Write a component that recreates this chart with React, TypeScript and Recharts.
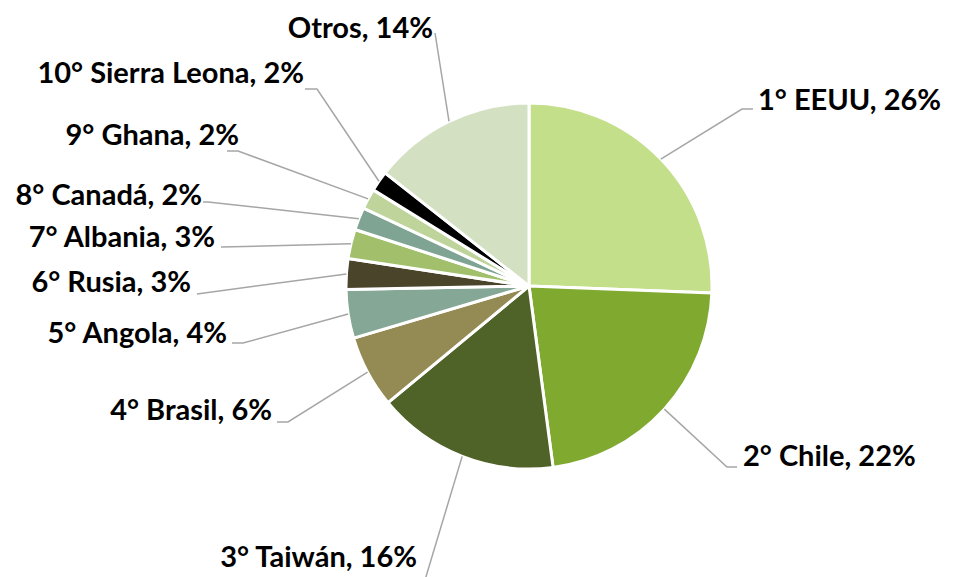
import React from "react";
import { PieChart, Pie, Cell } from "recharts";

const countries = [
  "1° EEUU",
  "2° Chile",
  "3° Taiwán",
  "4° Brasil",
  "5° Angola",
  "6° Rusia",
  "7° Albania",
  "8° Canadá",
  "9° Ghana",
  "10° Sierra Leona",
  "Otros",
];
const shares = [25.6, 22.3, 16.1, 6.4, 4.3, 2.7, 2.6, 2.0, 1.8, 1.8, 14.4];

const colors = [
  "#C3DF8A",
  "#80A930",
  "#4F6228",
  "#948A54",
  "#85A795",
  "#4A452A",
  "#A2C06B",
  "#80A494",
  "#BED49A",
  "#000000",
  "#D3E0C2",
];

// label placement (relative to pie centre): text anchor point and leader elbow/stub
type Lay = { tx: number; ty: number; anchor: "start" | "end"; pts: [number, number][] };
const CX = 529;
const CY = 286;
const layout: Lay[] = [
  { tx: 758, ty: 110, anchor: "start", pts: [[742, 109], [753, 109]] },
  { tx: 743, ty: 466, anchor: "start", pts: [[727, 467], [737, 467]] },
  { tx: 417, ty: 567, anchor: "end", pts: [[425, 580]] },
  { tx: 272, ty: 420, anchor: "end", pts: [[288, 422], [277, 422]] },
  { tx: 227, ty: 343, anchor: "end", pts: [[243, 343], [232, 343]] },
  { tx: 191, ty: 292, anchor: "end", pts: [[197, 294]] },
  { tx: 215, ty: 247, anchor: "end", pts: [[221, 247]] },
  { tx: 202, ty: 205, anchor: "end", pts: [[208, 202], [203, 202]] },
  { tx: 239, ty: 145, anchor: "end", pts: [[238, 151], [227, 151]] },
  { tx: 304, ty: 83, anchor: "end", pts: [[317, 89], [305, 89]] },
  { tx: 433, ty: 38, anchor: "end", pts: [[435, 33]] },
];

const data = countries.map((name, i) => ({ name, value: shares[i] }));

const RAD = Math.PI / 180;

const renderLabel = (props: any) => {
  const { cx, cy, midAngle, outerRadius, index, percent, name } = props;
  const lay = layout[index];
  const dx = cx - CX;
  const dy = cy - CY;
  const sx = cx + outerRadius * Math.cos(-midAngle * RAD);
  const sy = cy + outerRadius * Math.sin(-midAngle * RAD);
  const pts = [[sx, sy], ...lay.pts.map(([x, y]) => [x + dx, y + dy])];
  const d = pts.map((p, i) => `${i === 0 ? "M" : "L"}${p[0]},${p[1]}`).join(" ");
  return (
    <g key={`lbl-${index}`}>
      <path d={d} stroke="#A6A6A6" strokeWidth={1.5} fill="none" />
      <text
        x={lay.tx + dx}
        y={lay.ty + dy}
        textAnchor={lay.anchor}
        fontFamily="Lato, 'Open Sans', sans-serif"
        fontWeight={700}
        fontSize={29}
        fill="#000000"
      >
        {`${name}, ${Math.round(percent * 100)}%`}
      </text>
    </g>
  );
};

export default function App() {
  return (
    <div style={{ position: "absolute", left: 0, top: 0, width: 961, height: 577, background: "#fff" }}>
      <PieChart width={961} height={577} margin={{ top: 0, right: 0, bottom: 0, left: 0 }}>
        <Pie
          data={data}
          dataKey="value"
          nameKey="name"
          cx={CX}
          cy={CY}
          outerRadius={183}
          startAngle={90}
          endAngle={-270}
          stroke="#FFFFFF"
          strokeWidth={3}
          labelLine={false}
          label={renderLabel}
          isAnimationActive={false}
        >
          {data.map((d, i) => (
            <Cell key={d.name} fill={colors[i]} />
          ))}
        </Pie>
      </PieChart>
    </div>
  );
}
